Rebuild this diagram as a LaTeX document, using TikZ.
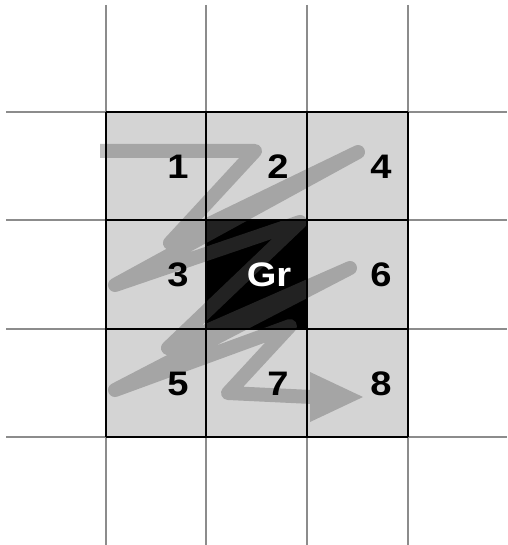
\documentclass[tikz,border=0pt]{standalone}
\usepackage{fontspec}
\setmainfont{Liberation Sans}
\definecolor{gridgray}{RGB}{140,140,140}
\definecolor{cellgray}{RGB}{212,212,212}
\definecolor{zigcol}{RGB}{90,90,90}
\begin{document}
\begin{tikzpicture}[x=1pt,y=-1pt,
  gridline/.style={draw=gridgray,line width=1.3pt},
  blockline/.style={draw=black,line width=1.6pt},
  num/.style={font=\fontsize{34}{34}\selectfont\bfseries,inner sep=0pt},
  zig/.style={draw=zigcol,line width=14pt,line join=round},
  zighead/.style={fill=zigcol}]
\useasboundingbox (0,0) rectangle (507,545);
% block
\fill[cellgray] (106,112) rectangle (408,437);
\fill[black] (206,220) rectangle (307,329);
% zigzag arrow
\coordinate (p1) at (100,151);
\coordinate (p2) at (255,151);
\coordinate (p3) at (170,243);
\coordinate (p4) at (358,152);
\coordinate (p5) at (115,285);
\coordinate (p6) at (300,222);
\coordinate (p7) at (168,348);
\coordinate (p8) at (350,268);
\coordinate (p9) at (115,390);
\coordinate (p10) at (290,326);
\coordinate (p11) at (228,393);
\coordinate (p12) at (312,397);
\coordinate (h1) at (310,372);
\coordinate (h2) at (363,397);
\coordinate (h3) at (310,422);
\begin{scope}[transparency group,opacity=0.38]
\draw[zig] (p1) -- (p2) -- (p3) -- (p4) -- (p5) -- (p6) -- (p7) -- (p8) -- (p9) -- (p10) -- (p11) -- (p12);
\fill[zighead] (h1) -- (h2) -- (h3) -- cycle;
\end{scope}
% grid lines
\foreach \x in {106,206,307,408} \draw[gridline] (\x,5) -- (\x,545);
\foreach \y in {112,220,329,437} \draw[gridline] (6,\y) -- (507,\y);
% block borders
\foreach \x in {106,206,307,408} \draw[blockline] (\x,112) -- (\x,437);
\foreach \y in {112,220,329,437} \draw[blockline] (106,\y) -- (408,\y);
% labels
\node[num] (n1) at (178,167) {\scalebox{1.12}[1]{1}};
\node[num] (n2) at (278,167) {\scalebox{1.12}[1]{2}};
\node[num] (n4) at (381,167) {\scalebox{1.12}[1]{4}};
\node[num] (n3) at (178,275) {\scalebox{1.12}[1]{3}};
\node[num,text=white] (gr) at (269,275) {\scalebox{1.12}[1]{Gr}};
\node[num] (n6) at (381,275) {\scalebox{1.12}[1]{6}};
\node[num] (n5) at (178,384) {\scalebox{1.12}[1]{5}};
\node[num] (n7) at (278,384) {\scalebox{1.12}[1]{7}};
\node[num] (n8) at (381,384) {\scalebox{1.12}[1]{8}};
\end{tikzpicture}
\end{document}
